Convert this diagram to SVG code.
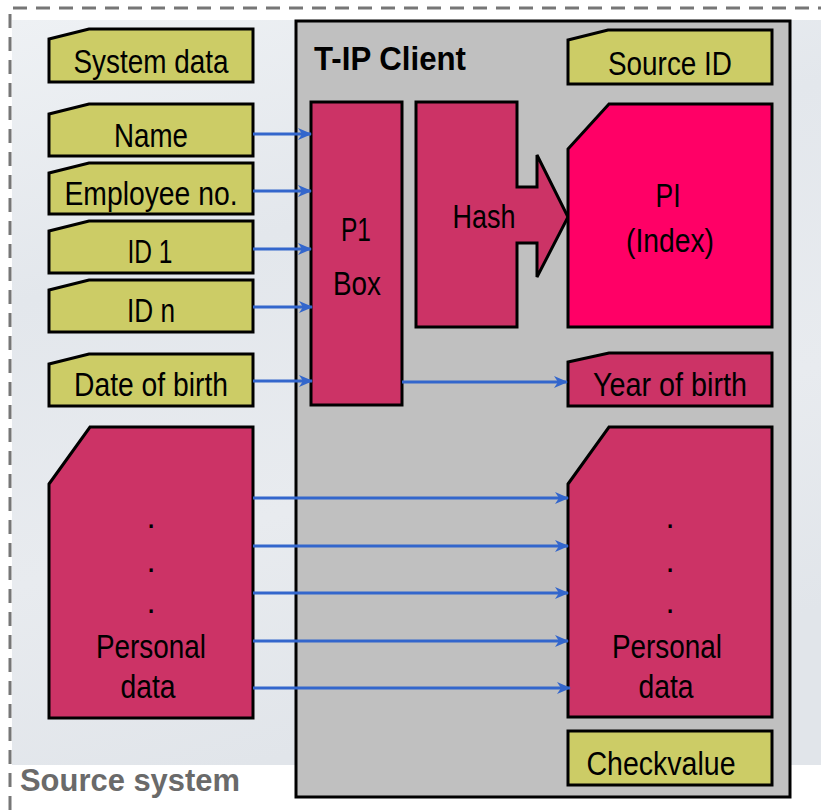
<svg xmlns="http://www.w3.org/2000/svg" width="821" height="810" viewBox="0 0 821 810">
  <defs>
    <linearGradient id="bgGrad" x1="0" y1="0" x2="0.3" y2="1">
      <stop offset="0" stop-color="#eef1f4"/>
      <stop offset="0.35" stop-color="#e3e7ec"/>
      <stop offset="0.7" stop-color="#e8ebef"/>
      <stop offset="1" stop-color="#e1e5ea"/>
    </linearGradient>
    <marker id="arrow" viewBox="0 0 14 12" refX="13" refY="6" markerWidth="14" markerHeight="12" markerUnits="userSpaceOnUse" orient="auto">
      <path d="M0,0 L14,6 L0,12 L4,6 z" fill="#3366cc"/>
    </marker>
    <style>
      .frame { fill: none; stroke: #767676; stroke-width: 3; stroke-dasharray: 14 9; }
      .client { fill: #c0c0c0; stroke: #000; stroke-width: 3; }
      .yellow { fill: #cccc66; stroke: #000; stroke-width: 3; stroke-linejoin: miter; }
      .crimson { fill: #cc3366; stroke: #000; stroke-width: 3; stroke-linejoin: miter; }
      .pink { fill: #ff0066; stroke: #000; stroke-width: 3; stroke-linejoin: miter; }
      .lbl { font-family: "Liberation Sans", Arial, sans-serif; font-size: 33px; fill: #000; text-anchor: middle; }
      .title { font-family: "Liberation Sans", Arial, sans-serif; font-size: 33px; font-weight: bold; fill: #000; }
      .sys { font-family: "Liberation Sans", Arial, sans-serif; font-size: 31px; font-weight: bold; fill: #6a6a6a; }
      .link { fill: none; stroke: #3366cc; stroke-width: 3; marker-end: url(#arrow); }
    </style>
  </defs>

  <!-- page and backdrop -->
  <rect x="0" y="0" width="821" height="810" fill="#ffffff"/>
  <rect x="12" y="20" width="809" height="745" fill="url(#bgGrad)"/>

  <!-- source system boundary -->
  <g id="source-system">
    <path class="frame" d="M10,810 L10,8 L821,8"/>
    <text class="sys" x="20" y="791" textLength="220" lengthAdjust="spacingAndGlyphs">Source system</text>
  </g>

  <!-- T-IP client container -->
  <g id="tip-client">
    <rect class="client" x="296" y="21" width="494" height="776"/>
    <text class="title" x="314" y="70" textLength="152" lengthAdjust="spacingAndGlyphs">T-IP Client</text>
  </g>

  <!-- source data fields -->
  <g id="system-data">
    <path class="yellow" d="M49,39 L89,29 L253,29 L253,82 L49,82 Z"/>
    <text class="lbl" x="151" y="73" textLength="155" lengthAdjust="spacingAndGlyphs">System data</text>
  </g>
  <g id="name">
    <path class="yellow" d="M49,114 L89,104 L253,104 L253,156 L49,156 Z"/>
    <text class="lbl" x="151" y="147" textLength="74" lengthAdjust="spacingAndGlyphs">Name</text>
  </g>
  <g id="employee-no">
    <path class="yellow" d="M49,173 L89,163 L253,163 L253,214 L49,214 Z"/>
    <text class="lbl" x="151" y="205" textLength="173" lengthAdjust="spacingAndGlyphs">Employee no.</text>
  </g>
  <g id="id-1">
    <path class="yellow" d="M49,231 L89,221 L253,221 L253,273 L49,273 Z"/>
    <text class="lbl" x="150" y="263" textLength="45" lengthAdjust="spacingAndGlyphs">ID 1</text>
  </g>
  <g id="id-n">
    <path class="yellow" d="M49,290 L89,280 L253,280 L253,332 L49,332 Z"/>
    <text class="lbl" x="151" y="322" textLength="48" lengthAdjust="spacingAndGlyphs">ID n</text>
  </g>
  <g id="date-of-birth">
    <path class="yellow" d="M49,364 L89,354 L253,354 L253,406 L49,406 Z"/>
    <text class="lbl" x="151" y="396" textLength="154" lengthAdjust="spacingAndGlyphs">Date of birth</text>
  </g>
  <g id="personal-data-source">
    <path class="crimson" d="M49,484 L90,427 L253,427 L253,718 L49,718 Z"/>
    <text class="lbl" x="151" y="528">.</text>
    <text class="lbl" x="151" y="572">.</text>
    <text class="lbl" x="151" y="613">.</text>
    <text class="lbl" x="151" y="658" textLength="110" lengthAdjust="spacingAndGlyphs">Personal</text>
    <text class="lbl" x="148" y="698" textLength="55" lengthAdjust="spacingAndGlyphs">data</text>
  </g>

  <!-- client processing -->
  <g id="p1-box">
    <rect class="crimson" x="311" y="102" width="91" height="303"/>
    <text class="lbl" x="356" y="241" textLength="30" lengthAdjust="spacingAndGlyphs">P1</text>
    <text class="lbl" x="357" y="295" textLength="48" lengthAdjust="spacingAndGlyphs">Box</text>
  </g>
  <g id="hash">
    <path class="crimson" d="M416,102 L517,102 L517,187 L537,187 L537,155 L568,217 L537,277 L537,243 L517,243 L517,327 L416,327 Z"/>
    <text class="lbl" x="484" y="228" textLength="63" lengthAdjust="spacingAndGlyphs">Hash</text>
  </g>

  <!-- client output fields -->
  <g id="source-id">
    <path class="yellow" d="M568,40 L608,30 L772,30 L772,84 L568,84 Z"/>
    <text class="lbl" x="670" y="75" textLength="124" lengthAdjust="spacingAndGlyphs">Source ID</text>
  </g>
  <g id="pi-index">
    <path class="pink" d="M568,149 L609,104 L772,104 L772,327 L568,327 Z"/>
    <text class="lbl" x="668" y="207" textLength="25" lengthAdjust="spacingAndGlyphs">PI</text>
    <text class="lbl" x="670" y="252" textLength="88" lengthAdjust="spacingAndGlyphs">(Index)</text>
  </g>
  <g id="year-of-birth">
    <path class="crimson" d="M568,362 L609,353 L772,353 L772,406 L568,406 Z"/>
    <text class="lbl" x="670" y="396" textLength="154" lengthAdjust="spacingAndGlyphs">Year of birth</text>
  </g>
  <g id="personal-data-client">
    <path class="crimson" d="M568,484 L609,427 L772,427 L772,717 L568,717 Z"/>
    <text class="lbl" x="670" y="528">.</text>
    <text class="lbl" x="670" y="572">.</text>
    <text class="lbl" x="670" y="613">.</text>
    <text class="lbl" x="667" y="658" textLength="110" lengthAdjust="spacingAndGlyphs">Personal</text>
    <text class="lbl" x="666" y="698" textLength="55" lengthAdjust="spacingAndGlyphs">data</text>
  </g>
  <g id="checkvalue">
    <rect class="yellow" x="568" y="731" width="204" height="54"/>
    <text class="lbl" x="661" y="775" textLength="149" lengthAdjust="spacingAndGlyphs">Checkvalue</text>
  </g>

  <!-- data flows -->
  <g id="connectors">
    <line class="link" x1="253" y1="134" x2="311" y2="134"/>
    <line class="link" x1="253" y1="191" x2="311" y2="191"/>
    <line class="link" x1="253" y1="249" x2="311" y2="249"/>
    <line class="link" x1="253" y1="307" x2="312" y2="307"/>
    <line class="link" x1="253" y1="381" x2="312" y2="381"/>
    <line class="link" x1="402" y1="382" x2="567" y2="382"/>
    <line class="link" x1="253" y1="498" x2="568" y2="498"/>
    <line class="link" x1="253" y1="546" x2="568" y2="546"/>
    <line class="link" x1="253" y1="593" x2="568" y2="593"/>
    <line class="link" x1="253" y1="641" x2="568" y2="641"/>
    <line class="link" x1="253" y1="688" x2="570" y2="688"/>
  </g>
</svg>
